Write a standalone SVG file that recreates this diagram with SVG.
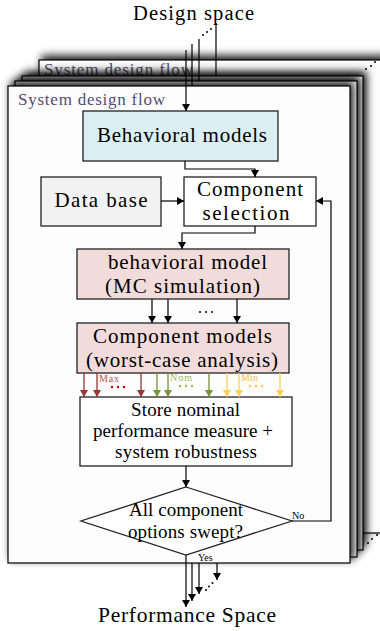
<svg xmlns="http://www.w3.org/2000/svg" width="380" height="631" viewBox="0 0 380 631">
  <defs>
    <style>
      text { font-family: "Liberation Serif", "Times New Roman", serif; fill: #000; }
      .page { fill: #fdfdfd; stroke: #000; stroke-width: 1.2; }
      .box { stroke: #222; stroke-width: 1.3; }
      .ln { fill: none; stroke: #000; stroke-width: 1.2; }
      .red { fill: none; stroke: #953735; stroke-width: 1.3; }
      .grn { fill: none; stroke: #77933c; stroke-width: 1.3; }
      .yel { fill: none; stroke: #fbd15a; stroke-width: 1.3; }
      .flow { fill: #574a72; font-size: 17px; }
      .big { font-size: 21px; text-anchor: middle; }
      .mid { font-size: 19px; text-anchor: middle; }
      .tiny { font-size: 10px; }
    </style>
    <filter id="shade" x="-15%" y="-15%" width="130%" height="130%">
      <feGaussianBlur in="SourceAlpha" stdDeviation="4"/>
      <feOffset dx="3" dy="-4" result="b"/>
      <feComponentTransfer in="b" result="s">
        <feFuncA type="linear" slope="0.9"/>
      </feComponentTransfer>
      <feMerge>
        <feMergeNode in="s"/>
        <feMergeNode in="SourceGraphic"/>
      </feMerge>
    </filter>
    <marker id="ah" viewBox="0 0 7 8" refX="7" refY="4" markerWidth="7" markerHeight="8" markerUnits="userSpaceOnUse" orient="auto">
      <path d="M0,0 L7,4 L0,8 z" fill="#000"/>
    </marker>
    <marker id="ahR" viewBox="0 0 7 8" refX="7" refY="4" markerWidth="7" markerHeight="8" markerUnits="userSpaceOnUse" orient="auto">
      <path d="M0,0 L7,4 L0,8 z" fill="#953735"/>
    </marker>
    <marker id="ahG" viewBox="0 0 7 8" refX="7" refY="4" markerWidth="7" markerHeight="8" markerUnits="userSpaceOnUse" orient="auto">
      <path d="M0,0 L7,4 L0,8 z" fill="#77933c"/>
    </marker>
    <marker id="ahY" viewBox="0 0 7 8" refX="7" refY="4" markerWidth="7" markerHeight="8" markerUnits="userSpaceOnUse" orient="auto">
      <path d="M0,0 L7,4 L0,8 z" fill="#fbd15a"/>
    </marker>
  </defs>

  <text x="193.5" y="20" font-size="20.5" text-anchor="middle" textLength="121" lengthAdjust="spacing">Design space</text>

  <!-- stacked flows, back to front -->
  <g id="page-back">
    <rect class="page" x="39" y="60" width="345" height="473" filter="url(#shade)"/>
    <text class="flow" x="44" y="75" textLength="149" lengthAdjust="spacing">System design flow</text>
    <path class="ln" d="M216,23 V100"/>
    <path class="ln" d="M217,520 V580" marker-end="url(#ah)"/>
  </g>
  <g id="page-3">
    <rect class="page" x="22" y="76" width="341" height="474" filter="url(#shade)"/>
    <path class="ln" d="M199,39 V100"/>
    <path class="ln" d="M199,540 V594" marker-end="url(#ah)"/>
  </g>
  <g id="page-2">
    <rect class="page" x="15" y="81" width="342" height="476" filter="url(#shade)"/>
    <path class="ln" d="M192,44 V100"/>
    <path class="ln" d="M192,545 V601" marker-end="url(#ah)"/>
  </g>
  <g id="page-front">
    <rect class="page" x="8" y="86" width="342" height="477" filter="url(#shade)"/>
    <text class="flow" x="18" y="105" textLength="147" lengthAdjust="spacing">System design flow</text>
  </g>

  <!-- more flows behind -->
  <g id="more-dots" fill="#000">
    <circle cx="203" cy="35" r="1"/><circle cx="207" cy="32" r="1"/><circle cx="211" cy="29" r="1"/>
    <circle cx="366" cy="69" r="1"/><circle cx="371" cy="66" r="1"/><circle cx="375" cy="62" r="1"/>
    <circle cx="368" cy="543" r="1"/><circle cx="372" cy="539" r="1"/><circle cx="377" cy="535" r="1"/>
    <circle cx="206" cy="590" r="1"/><circle cx="209" cy="586.5" r="1"/><circle cx="212.5" cy="583" r="1"/>
  </g>

  <g id="behavioral-models">
    <rect class="box" x="83" y="111" width="195" height="50" fill="#daeef3"/>
    <text class="big" x="182" y="142" textLength="170" lengthAdjust="spacing">Behavioral models</text>
  </g>
  <g id="data-base">
    <rect class="box" x="41" y="177" width="120" height="49" fill="#f2f2f2"/>
    <text class="big" x="101" y="207" textLength="93" lengthAdjust="spacing">Data base</text>
  </g>
  <g id="component-selection">
    <rect class="box" x="184" y="177" width="132" height="49" fill="#fff"/>
    <text class="big" x="250" y="196" textLength="106" lengthAdjust="spacing">Component</text>
    <text class="big" x="246" y="220" textLength="87" lengthAdjust="spacing">selection</text>
  </g>
  <g id="mc-simulation">
    <rect class="box" x="77" y="249" width="212" height="50" fill="#f2dcdb"/>
    <text class="big" x="187.5" y="269" textLength="159" lengthAdjust="spacing">behavioral model</text>
    <text class="big" x="182.5" y="293" textLength="155" lengthAdjust="spacing">(MC simulation)</text>
  </g>
  <g id="component-models">
    <rect class="box" x="77" y="323" width="212" height="50" fill="#f2dcdb"/>
    <text class="big" x="182.5" y="343" textLength="179" lengthAdjust="spacing">Component models</text>
    <text class="big" x="182" y="367" textLength="192" lengthAdjust="spacing">(worst-case analysis)</text>
  </g>
  <g id="store">
    <rect class="box" x="80" y="397" width="212" height="69" fill="#fff"/>
    <text class="mid" x="185.5" y="416" textLength="109" lengthAdjust="spacing">Store nominal</text>
    <text class="mid" x="183" y="437" textLength="180" lengthAdjust="spacing">performance measure +</text>
    <text class="mid" x="186" y="458" textLength="142" lengthAdjust="spacing">system robustness</text>
  </g>
  <g id="decision">
    <polygon class="box" points="186,487 292,521 186,555 81,521" fill="#fff"/>
    <text class="mid" x="186" y="516" textLength="114" lengthAdjust="spacing">All component</text>
    <text class="mid" x="185.5" y="538" textLength="115" lengthAdjust="spacing">options swept?</text>
  </g>

  <g id="connectors">
    <path class="ln" d="M186,50 V111" marker-end="url(#ah)"/>
    <path class="ln" d="M185,161 V169 H255 V177" marker-end="url(#ah)"/>
    <path class="ln" d="M161,201 H184" marker-end="url(#ah)"/>
    <path class="ln" d="M255,226 V233 H182 V249" marker-end="url(#ah)"/>
    <path class="ln" d="M152,299 V323" marker-end="url(#ah)"/>
    <path class="ln" d="M168,299 V323" marker-end="url(#ah)"/>
    <path class="ln" d="M237,299 V323" marker-end="url(#ah)"/>
    <g fill="#000">
      <circle cx="200" cy="312" r="1"/><circle cx="206" cy="312" r="1"/><circle cx="212" cy="312" r="1"/>
    </g>

    <path class="red" d="M84,373 V397" marker-end="url(#ahR)"/>
    <path class="red" d="M97,373 V397" marker-end="url(#ahR)"/>
    <path class="red" d="M141,373 V397" marker-end="url(#ahR)"/>
    <path class="grn" d="M157,373 V397" marker-end="url(#ahG)"/>
    <path class="grn" d="M168,373 V397" marker-end="url(#ahG)"/>
    <path class="grn" d="M209,373 V397" marker-end="url(#ahG)"/>
    <path class="yel" d="M227,373 V397" marker-end="url(#ahY)"/>
    <path class="yel" d="M239,373 V397" marker-end="url(#ahY)"/>
    <path class="yel" d="M280,373 V397" marker-end="url(#ahY)"/>
    <text x="99" y="382" font-size="10" style="fill:#c0504d" textLength="20" lengthAdjust="spacing">Max</text>
    <text x="170" y="381" font-size="10" style="fill:#9bbb59" textLength="22" lengthAdjust="spacing">Nom</text>
    <text x="241" y="381" font-size="10" style="fill:#f5c342" textLength="17" lengthAdjust="spacing">Min</text>
    <g fill="#c00000">
      <circle cx="112" cy="387" r="1.2"/><circle cx="118" cy="387" r="1.2"/><circle cx="124" cy="387" r="1.2"/>
    </g>
    <g fill="#9bbb59">
      <circle cx="180" cy="386" r="1.2"/><circle cx="186" cy="386" r="1.2"/><circle cx="192" cy="386" r="1.2"/>
    </g>
    <g fill="#f7c844">
      <circle cx="250" cy="386" r="1.2"/><circle cx="256" cy="386" r="1.2"/><circle cx="262" cy="386" r="1.2"/>
    </g>

    <path class="ln" d="M186,466 V487" marker-end="url(#ah)"/>
    <path class="ln" d="M292,521 H331 V201 H316" marker-end="url(#ah)"/>
    <text class="tiny" x="292" y="519">No</text>
    <path class="ln" d="M186,555 V607" marker-end="url(#ah)"/>
    <text class="tiny" x="198" y="561">Yes</text>
  </g>

  <text x="187" y="622" font-size="21.5" text-anchor="middle" textLength="178" lengthAdjust="spacing">Performance Space</text>
</svg>
